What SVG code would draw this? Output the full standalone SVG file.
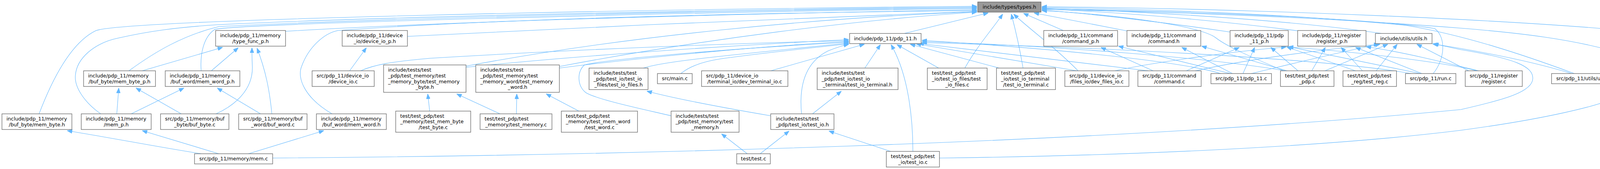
<svg xmlns="http://www.w3.org/2000/svg" width="4398" height="432" viewBox="0 0 4398 432">
<style>
.n rect{fill:#fff;stroke:#666;stroke-width:1.3}
.root rect{fill:#999}
text{font-family:"DejaVu Sans",sans-serif;font-size:12.75px;fill:#000}
.c{text-anchor:middle}
.e path{fill:none;stroke:#63b8ff;stroke-width:1.1;marker-end:url(#a)}
</style>
<defs>
<marker id="a" markerUnits="userSpaceOnUse" markerWidth="13" markerHeight="10" refX="13" refY="5" orient="auto">
<path d="M0,0 L13,5 L0,10 z" fill="#63b8ff" stroke="#63b8ff" stroke-width="1"/>
</marker>
</defs>
<rect width="4398" height="432" fill="#fff"/>
<g id="edges" class="e">
<path d="M2313,86 L2530,33"/>
<path d="M2470,174 C2500,120 2540,75 2567,36"/>
<path d="M2619,174 C2610,120 2598,70 2589,36"/>
<path d="M2760,181 C2700,120 2630,70 2595,36"/>
<path d="M2722,78 L2620,34"/>
<path d="M2885,79 L2647,33"/>
<path d="M3150,82 C3000,60 2800,35 2667,26"/>
<path d="M3325,79 C3100,50 2850,30 2667,23"/>
<path d="M3540,86 C3300,50 2900,28 2667,21"/>
<path d="M4245,86 C3900,50 3200,22 2667,17"/>
<path d="M3669,188 C3700,150 3702,95 3673,73 C3500,45 3000,28 2667,22"/>
<path d="M4030,188 C3900,140 3750,90 3600,65 C3300,35 2900,22 2667,19"/>
<path d="M2405,404 C2900,398 3400,375 3740,333 C3950,305 4100,270 4140,247 C4175,225 4182,200 4178,183 C4172,160 4160,145 4140,133 C4020,100 3900,85 3740,72 C3400,45 3000,30 2667,24"/>
<path d="M3287,181 C3200,145 3140,118 3113,97 C3080,70 2900,40 2667,27"/>
<path d="M731,80 C1200,52 2000,33 2501,25"/>
<path d="M1043,93 C1500,70 2100,42 2501,29"/>
<path d="M100,291 C150,160 200,100 246,78 C330,50 1600,24 2501,16"/>
<path d="M258,291 C220,265 190,225 193,193 C196,150 240,110 304,97 C380,80 450,70 560,63 C1000,42 1800,26 2501,18"/>
<path d="M330,181 C400,130 470,90 560,68 C1000,46 1800,28 2501,20"/>
<path d="M515,181 C512,140 520,95 550,75 C620,60 1800,30 2501,22"/>
<path d="M850,291 C780,250 760,200 772,170 C790,120 830,85 865,78 C1300,46 2000,32 2501,27"/>
<path d="M1193,169 C1600,92 2100,45 2501,30"/>
<path d="M1432,170 C1800,100 2200,50 2501,31"/>
<path d="M923,181 C960,165 1000,158 1100,149 C1500,125 1900,110 2173,104"/>
<path d="M1193,172 C1500,140 1900,115 2173,101"/>
<path d="M1432,174 C1700,140 2000,115 2173,106"/>
<path d="M1647,174 C1690,160 1800,148 1977,130 C2070,120 2130,115 2173,110"/>
<path d="M1743,188 C1765,170 1800,155 1870,147 C1950,136 2080,122 2173,112"/>
<path d="M1718,296 C1650,280 1530,255 1500,237 C1478,220 1476,185 1496,166 C1560,150 1900,122 2173,108"/>
<path d="M2052,291 C2045,220 2060,160 2120,130 C2140,122 2155,117 2173,113"/>
<path d="M1973,181 L2213,113"/>
<path d="M2214,174 L2254,114"/>
<path d="M2337,387 C2337,300 2325,190 2281,114"/>
<path d="M2403,174 L2296,114"/>
<path d="M2558,174 L2330,113"/>
<path d="M2757,181 L2345,112"/>
<path d="M2940,181 L2352,111"/>
<path d="M3125,188 C3000,150 2600,118 2360,103"/>
<path d="M3290,181 C3100,148 2700,117 2360,106"/>
<path d="M3612,188 C3400,150 2800,120 2360,109"/>
<path d="M2952,181 L2818,121"/>
<path d="M3150,188 L2863,118"/>
<path d="M3155,188 L3025,121"/>
<path d="M3295,181 L3076,118"/>
<path d="M3037,181 L3173,121"/>
<path d="M3182,188 L3212,121"/>
<path d="M3323,181 L3253,121"/>
<path d="M2854,181 C2950,160 3150,132 3293,120"/>
<path d="M3636,188 L3298,119"/>
<path d="M3781,181 C3700,160 3500,135 3298,120"/>
<path d="M3470,181 L3294,120"/>
<path d="M3358,181 L3393,121"/>
<path d="M3488,181 L3433,121"/>
<path d="M3640,188 L3470,121"/>
<path d="M3785,181 C3700,160 3600,135 3497,119"/>
<path d="M3060,181 C3200,150 3400,125 3530,113"/>
<path d="M3203,188 C3300,165 3450,128 3533,113"/>
<path d="M3392,181 L3553,113"/>
<path d="M3523,181 L3577,113"/>
<path d="M3760,181 L3627,113"/>
<path d="M4023,188 C3900,150 3750,125 3667,112"/>
<path d="M698,404 C1500,398 2800,370 3740,280 C3850,255 3924,235 3924,200 C3924,170 3880,150 3740,127 C3720,123 3700,118 3670,112"/>
<path d="M364,181 L570,121"/>
<path d="M541,181 L610,122"/>
<path d="M553,291 C600,270 648,230 646,170 C645,150 645,135 645,122"/>
<path d="M696,291 C690,230 680,180 658,123"/>
<path d="M895,181 L938,122"/>
<path d="M299,291 L304,225"/>
<path d="M464,291 L348,225"/>
<path d="M336,291 L471,225"/>
<path d="M667,291 L556,225"/>
<path d="M515,393 C400,375 300,355 172,334"/>
<path d="M560,393 L364,334"/>
<path d="M636,393 L829,334"/>
<path d="M1100,284 L1095,240"/>
<path d="M1280,291 L1169,240"/>
<path d="M1322,291 L1323,240"/>
<path d="M1482,284 L1398,240"/>
<path d="M1973,296 C1850,275 1720,250 1656,233"/>
<path d="M2080,291 L2154,233"/>
<path d="M1913,393 L1847,342"/>
<path d="M1946,393 L2020,335"/>
<path d="M2280,387 L2122,335"/>
</g>
<g id="n_types" class="n root"><rect x="2503" y="5" width="162" height="26"/><text class="c" x="2584" y="22.3">include/types/types.h</text></g>
<g id="n_pdp11h" class="n"><rect x="2175" y="85.5" width="183" height="26"/><text class="c" x="2266.5" y="102.8">include/pdp_11/pdp_11.h</text></g>
<g id="n_typefunc" class="n"><rect x="552" y="78" width="179" height="40"/><text x="563.5" y="94.95">include/pdp_11/memory</text><text class="c" x="641.5" y="109.65">/type_func_p.h</text></g>
<g id="n_devioph" class="n"><rect x="876" y="78" width="167" height="40"/><text x="887.5" y="94.95">include/pdp_11/device</text><text class="c" x="959.5" y="109.65">_io/device_io_p.h</text></g>
<g id="n_cmdph" class="n"><rect x="2672" y="78" width="189" height="40"/><text x="2683.5" y="94.95">include/pdp_11/command</text><text class="c" x="2766.5" y="109.65">/command_p.h</text></g>
<g id="n_cmdh" class="n"><rect x="2885" y="78" width="189" height="40"/><text x="2896.5" y="94.95">include/pdp_11/command</text><text class="c" x="2979.5" y="109.65">/command.h</text></g>
<g id="n_pdp11ph" class="n"><rect x="3149" y="78" width="149" height="40"/><text x="3160.5" y="94.95">include/pdp_11/pdp</text><text class="c" x="3223.5" y="109.65">_11_p.h</text></g>
<g id="n_regph" class="n"><rect x="3322" y="78" width="175" height="40"/><text x="3333.5" y="94.95">include/pdp_11/register</text><text class="c" x="3409.5" y="109.65">/register_p.h</text></g>
<g id="n_utilsh" class="n"><rect x="3521" y="85.5" width="145" height="26"/><text class="c" x="3593.5" y="102.8">include/utils/utils.h</text></g>
<g id="n_sizebuf" class="n"><rect x="4215" y="85.5" width="178" height="26"/><text class="c" x="4304" y="102.8">src/pdp_11/size_buffer.c</text></g>
<g id="n_tmbh" class="n"><rect x="982" y="166" width="211" height="70"/><text x="993.5" y="183.25">include/tests/test</text><text x="993.5" y="197.95">_pdp/test_memory/test</text><text x="993.5" y="212.65">_memory_byte/test_memory</text><text class="c" x="1087.5" y="227.35">_byte.h</text></g>
<g id="n_tmwh" class="n"><rect x="1218" y="166" width="214" height="70"/><text x="1229.5" y="183.25">include/tests/test</text><text x="1229.5" y="197.95">_pdp/test_memory/test</text><text x="1229.5" y="212.65">_memory_word/test_memory</text><text class="c" x="1325" y="227.35">_word.h</text></g>
<g id="n_tiofh" class="n"><rect x="1508" y="174" width="151" height="55"/><text x="1519.5" y="191.1">include/tests/test</text><text x="1519.5" y="205.8">_pdp/test_io/test_io</text><text class="c" x="1583.5" y="220.5">_files/test_io_files.h</text></g>
<g id="n_main" class="n"><rect x="1683" y="188" width="89" height="26"/><text class="c" x="1727.5" y="205.3">src/main.c</text></g>
<g id="n_devterm" class="n"><rect x="1796" y="181" width="221" height="40"/><text x="1807.5" y="197.95">src/pdp_11/device_io</text><text class="c" x="1906.5" y="212.65">/terminal_io/dev_terminal_io.c</text></g>
<g id="n_tioth" class="n"><rect x="2092" y="174" width="207" height="55"/><text x="2103.5" y="191.1">include/tests/test</text><text x="2103.5" y="205.8">_pdp/test_io/test_io</text><text class="c" x="2195.5" y="220.5">_terminal/test_io_terminal.h</text></g>
<g id="n_tiofc" class="n"><rect x="2374" y="174" width="153" height="55"/><text x="2385.5" y="191.1">test/test_pdp/test</text><text x="2385.5" y="205.8">_io/test_io_files/test</text><text class="c" x="2450.5" y="220.5">_io_files.c</text></g>
<g id="n_tiotc" class="n"><rect x="2551" y="174" width="151" height="55"/><text x="2562.5" y="191.1">test/test_pdp/test</text><text x="2562.5" y="205.8">_io/test_io_terminal</text><text class="c" x="2626.5" y="220.5">/test_io_terminal.c</text></g>
<g id="n_devfiles" class="n"><rect x="2726" y="181" width="164" height="40"/><text x="2737.5" y="197.95">src/pdp_11/device_io</text><text class="c" x="2808" y="212.65">/files_io/dev_files_io.c</text></g>
<g id="n_cmdc" class="n"><rect x="2913" y="181" width="162" height="40"/><text x="2924.5" y="197.95">src/pdp_11/command</text><text class="c" x="2994" y="212.65">/command.c</text></g>
<g id="n_pdp11c" class="n"><rect x="3100" y="188" width="155" height="26"/><text class="c" x="3177.5" y="205.3">src/pdp_11/pdp_11.c</text></g>
<g id="n_testpdp" class="n"><rect x="3278" y="181" width="137" height="40"/><text x="3289.5" y="197.95">test/test_pdp/test</text><text class="c" x="3346.5" y="212.65">_pdp.c</text></g>
<g id="n_testreg" class="n"><rect x="3438" y="181" width="137" height="40"/><text x="3449.5" y="197.95">test/test_pdp/test</text><text class="c" x="3506.5" y="212.65">_reg/test_reg.c</text></g>
<g id="n_run" class="n"><rect x="3598" y="188" width="129" height="26"/><text class="c" x="3662.5" y="205.3">src/pdp_11/run.c</text></g>
<g id="n_regc" class="n"><rect x="3751" y="181" width="146" height="40"/><text x="3762.5" y="197.95">src/pdp_11/register</text><text class="c" x="3824" y="212.65">/register.c</text></g>
<g id="n_utilsc" class="n"><rect x="3972" y="188" width="167" height="26"/><text class="c" x="4055.5" y="205.3">src/pdp_11/utils/utils.c</text></g>
<g id="n_mbph" class="n"><rect x="214" y="181" width="184" height="40"/><text x="225.5" y="197.95">include/pdp_11/memory</text><text class="c" x="306" y="212.65">/buf_byte/mem_byte_p.h</text></g>
<g id="n_mwph" class="n"><rect x="423" y="181" width="191" height="40"/><text x="434.5" y="197.95">include/pdp_11/memory</text><text class="c" x="518.5" y="212.65">/buf_word/mem_word_p.h</text></g>
<g id="n_devioc" class="n"><rect x="799" y="181" width="159" height="40"/><text x="810.5" y="197.95">src/pdp_11/device_io</text><text class="c" x="878.5" y="212.65">/device_io.c</text></g>
<g id="n_mbh" class="n"><rect x="5" y="291" width="179" height="40"/><text x="16.5" y="307.95">include/pdp_11/memory</text><text class="c" x="94.5" y="322.65">/buf_byte/mem_byte.h</text></g>
<g id="n_memph" class="n"><rect x="208" y="291" width="179" height="40"/><text x="219.5" y="307.95">include/pdp_11/memory</text><text class="c" x="297.5" y="322.65">/mem_p.h</text></g>
<g id="n_bufbyte" class="n"><rect x="411" y="291" width="175" height="40"/><text x="422.5" y="307.95">src/pdp_11/memory/buf</text><text class="c" x="498.5" y="322.65">_byte/buf_byte.c</text></g>
<g id="n_bufword" class="n"><rect x="611" y="291" width="175" height="40"/><text x="622.5" y="307.95">src/pdp_11/memory/buf</text><text class="c" x="698.5" y="322.65">_word/buf_word.c</text></g>
<g id="n_mwh" class="n"><rect x="810" y="291" width="179" height="40"/><text x="821.5" y="307.95">include/pdp_11/memory</text><text class="c" x="899.5" y="322.65">/buf_word/mem_word.h</text></g>
<g id="n_testbyte" class="n"><rect x="1013" y="284" width="192" height="54"/><text x="1024.5" y="300.6">test/test_pdp/test</text><text x="1024.5" y="315.3">_memory/test_mem_byte</text><text class="c" x="1109" y="330">/test_byte.c</text></g>
<g id="n_testmemc" class="n"><rect x="1229" y="291" width="184" height="40"/><text x="1240.5" y="307.95">test/test_pdp/test</text><text class="c" x="1321" y="322.65">_memory/test_memory.c</text></g>
<g id="n_testword" class="n"><rect x="1437" y="284" width="195" height="54"/><text x="1448.5" y="300.6">test/test_pdp/test</text><text x="1448.5" y="315.3">_memory/test_mem_word</text><text class="c" x="1534.5" y="330">/test_word.c</text></g>
<g id="n_testmemh" class="n"><rect x="1718" y="284" width="174" height="54"/><text x="1729.5" y="300.6">include/tests/test</text><text x="1729.5" y="315.3">_pdp/test_memory/test</text><text class="c" x="1805" y="330">_memory.h</text></g>
<g id="n_tioh" class="n"><rect x="1973" y="291" width="162" height="40"/><text x="1986" y="307.95">include/tests/test</text><text class="c" x="2054" y="322.65">_pdp/test_io/test_io.h</text></g>
<g id="n_testc" class="n"><rect x="1886" y="393" width="86" height="26"/><text class="c" x="1929" y="410.3">test/test.c</text></g>
<g id="n_tioc" class="n"><rect x="2269" y="387" width="136" height="40"/><text x="2280.5" y="403.95">test/test_pdp/test</text><text class="c" x="2337" y="418.65">_io/test_io.c</text></g>
<g id="n_memc" class="n"><rect x="498" y="393" width="200" height="26"/><text class="c" x="598" y="410.3">src/pdp_11/memory/mem.c</text></g>
</svg>
